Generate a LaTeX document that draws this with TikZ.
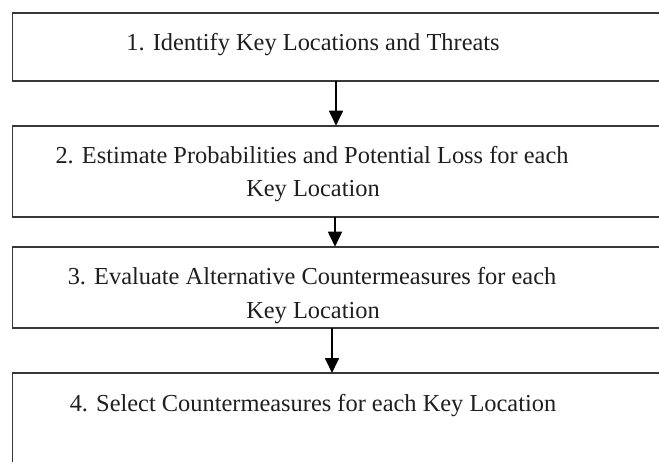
\documentclass[tikz,border=0pt]{standalone}
\usepackage{fontspec}
\setmainfont{Liberation Serif}
\usetikzlibrary{arrows.meta}
\tikzset{
  box/.style={draw=black!78, line width=1.8pt, rectangle, inner sep=0pt, outer sep=0pt},
  lbl/.style={anchor=base, inner sep=0pt, text=black!88, font=\fontsize{24.4}{30}\selectfont},
  arr/.style={draw=black, line width=1.8pt, -{Triangle[width=14pt,length=15pt]}}
}
\begin{document}
\begin{tikzpicture}[x=1pt,y=1pt]
\useasboundingbox (0,0) rectangle (659,-461);
\clip (0,0) rectangle (659,-461);
\fill[white] (0,0) rectangle (659,-461);
\node[box, minimum width=687.5pt, minimum height=68pt] (b1) at (356.25,-46.7) {};
\node[box, minimum width=687.5pt, minimum height=91pt] (b2) at (356.25,-171.2) {};
\node[box, minimum width=687.5pt, minimum height=81.3pt] (b3) at (356.25,-287.35) {};
\node[box, minimum width=687.5pt, minimum height=127pt] (b4) at (356.25,-436.5) {};
\node[lbl] (t1) at (313,-50) {1. Identify Key Locations and Threats};
\node[lbl] (t2a) at (312,-163.3) {2. Estimate Probabilities and Potential Loss for each};
\node[lbl] (t2b) at (313,-196.7) {Key Location};
\node[lbl] (t3a) at (312,-284.3) {3. Evaluate Alternative Countermeasures for each};
\node[lbl] (t3b) at (313,-318.3) {Key Location};
\node[lbl] (t4) at (313,-411.7) {4. Select Countermeasures for each Key Location};
\draw[arr] (b1.south -| 336,0) -- (b2.north -| 336,0);
\draw[arr] (b2.south -| 335,0) -- (b3.north -| 335,0);
\draw[arr] (b3.south -| 332,0) -- (b4.north -| 332,0);
\end{tikzpicture}
\end{document}
